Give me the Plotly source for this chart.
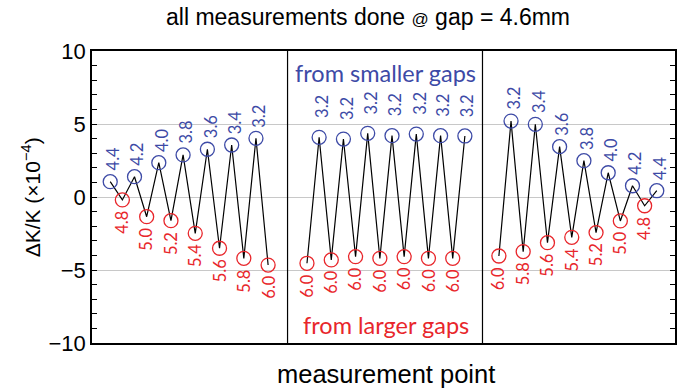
import numpy as np
import plotly.graph_objects as go

# Gap (mm) from which each measurement approached 4.6 mm, and the measured dK/K (x1e-4)
left_gap = [4.4, 4.8, 4.2, 5.0, 4.0, 5.2, 3.8, 5.4, 3.6, 5.6, 3.4, 5.8, 3.2, 6.0]
left_dk = [1.05, -0.20, 1.39, -1.35, 2.35, -1.62, 2.88, -2.49, 3.27, -3.51, 3.56, -4.20, 4.02, -4.66]

mid_gap = [6.0, 3.2, 6.0, 3.2, 6.0, 3.2, 6.0, 3.2, 6.0, 3.2, 6.0, 3.2, 6.0, 3.2]
mid_dk = [-4.54, 4.09, -4.31, 3.97, -4.09, 4.36, -4.20, 4.20, -4.09, 4.31, -4.20, 4.20, -4.20, 4.18]

right_gap = [6.0, 3.2, 5.8, 3.4, 5.6, 3.6, 5.4, 3.8, 5.2, 4.0, 5.0, 4.2, 4.8, 4.4]
right_dk = [-4.04, 5.20, -3.74, 4.98, -3.13, 3.45, -2.76, 2.49, -2.44, 1.66, -1.64, 0.77, -0.60, 0.43]

gap_now = 4.6
y_ticks = [-10, -5, 0, 5, 10]

BLUE = "#3d4aa6"
RED = "#e8262b"
LABEL_FONT = "Lato, 'Open Sans', sans-serif"
AXIS_FONT = "'Liberation Sans', Arial, sans-serif"

# measurement-point positions of each block and the block separators
block_start = [1.5, 17.7, 33.5]
separators = [16.1, 32.15]
x_range = [0, 48]

blocks = [(left_gap, left_dk), (mid_gap, mid_dk), (right_gap, right_dk)]
label_lift = [9, 17, 9]

fig = go.Figure()
annotations = []

for (gaps, dks), x0, lift in zip(blocks, block_start, label_lift):
    xs = x0 + np.arange(len(gaps))
    colors = [BLUE if g < gap_now else RED for g in gaps]
    fig.add_trace(go.Scatter(
        x=xs, y=dks, mode="lines",
        line=dict(color="black", width=1.2),
        hoverinfo="skip", showlegend=False,
    ))
    fig.add_trace(go.Scatter(
        x=xs, y=dks, mode="markers",
        marker=dict(symbol="circle-open", size=14, color=colors, line=dict(width=1.3)),
        showlegend=False,
    ))
    for x, y, g, c in zip(xs, dks, gaps, colors):
        above = g < gap_now
        annotations.append(dict(
            x=x, y=y, xref="x", yref="y", text=f"{g:.1f}",
            textangle=-90, showarrow=False,
            font=dict(family=LABEL_FONT, size=16.5, color=c),
            xanchor="center",
            yanchor="bottom" if above else "top",
            yshift=lift if above else -9,
            xshift=3 if above else 0,
        ))

# block separators
shapes = [dict(type="line", xref="x", yref="paper", x0=s, x1=s, y0=0, y1=1,
               line=dict(color="black", width=1.2)) for s in separators]

annotations += [
    dict(x=24.2, y=8.5, xref="x", yref="y", text="from smaller gaps", showarrow=False,
         xanchor="center", yanchor="middle",
         font=dict(family=LABEL_FONT, size=23.5, color=BLUE)),
    dict(x=24.2, y=-8.8, xref="x", yref="y", text="from larger gaps", showarrow=False,
         xanchor="center", yanchor="middle",
         font=dict(family=LABEL_FONT, size=23.5, color=RED)),
    dict(x=0.474, y=1.0, xref="paper", yref="paper", yshift=34,
         xanchor="center", yanchor="middle",
         text="all measurements done <span style='font-size:17px'>@</span> gap = 4.6mm",
         showarrow=False, font=dict(family=AXIS_FONT, size=23, color="black")),
    dict(x=0.505, y=0, xref="paper", yref="paper", yshift=-31,
         xanchor="center", yanchor="middle",
         text="measurement point", showarrow=False,
         font=dict(family=AXIS_FONT, size=25.5, color="black")),
    dict(x=-0.104, y=0.5, xref="paper", yref="paper", textangle=-90,
         xanchor="center", yanchor="middle",
         text="ΔK/K (×10<sup>−4</sup>)", showarrow=False,
         font=dict(family=AXIS_FONT, size=21, color="black")),
]

fig.update_layout(
    width=686, height=390,
    margin=dict(l=92, r=9, t=51, b=47),
    paper_bgcolor="white", plot_bgcolor="white",
    shapes=shapes, annotations=annotations,
    xaxis=dict(range=x_range, showticklabels=False, ticks="", showgrid=False,
               zeroline=False, showline=True, linecolor="black", linewidth=1.5,
               mirror=True),
    yaxis=dict(range=[-10, 10], tickvals=y_ticks, ticktext=[str(v).replace("-", "−") for v in y_ticks],
               ticks="inside", ticklen=5, tickwidth=1, tickcolor="black",
               minor=dict(dtick=1, ticks="inside", ticklen=5, tickcolor="black", showgrid=False),
               showgrid=True, gridcolor="#c8c8c8", gridwidth=1, zeroline=False,
               showline=True, linecolor="black", linewidth=1.5, mirror="ticks",
               tickfont=dict(family=AXIS_FONT, size=22, color="black")),
)

fig.write_html("out.html")
